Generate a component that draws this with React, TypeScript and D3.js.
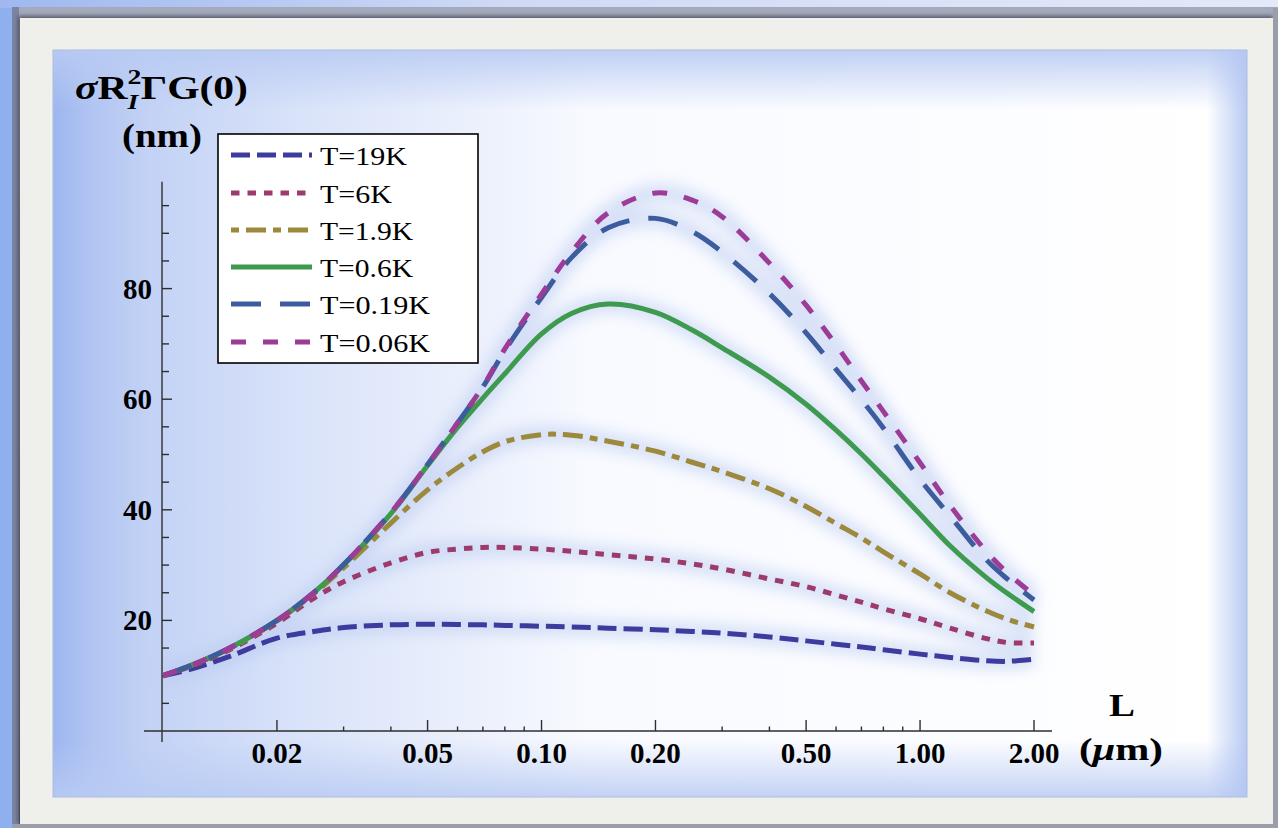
import React from 'react';
import * as d3 from 'd3';

const W = 1278;
const H = 828;

// L values (micrometres) at which the curves are sampled
const lengths = [0.01, 0.012, 0.015, 0.02, 0.025, 0.03, 0.04, 0.05, 0.06, 0.07, 0.08, 0.1, 0.12, 0.15, 0.2, 0.25, 0.3, 0.4, 0.5, 0.6, 0.7, 0.8, 1.0, 1.2, 1.5, 1.7, 2.0];

// sigma R_I^2 Gamma G(0) (nm) for each temperature
const t19K = [10.0, 11.3, 13.5, 16.8, 18.0, 18.7, 19.2, 19.3, 19.25, 19.2, 19.1, 18.95, 18.8, 18.6, 18.3, 18.0, 17.7, 17.0, 16.3, 15.7, 15.2, 14.7, 13.9, 13.3, 12.7, 12.6, 13.0];
const t6K = [10.0, 11.8, 14.7, 19.5, 24.0, 27.0, 30.4, 32.3, 32.9, 33.2, 33.2, 32.9, 32.5, 31.9, 31.1, 30.2, 29.3, 27.5, 26.1, 24.6, 23.3, 22.1, 20.3, 18.6, 16.7, 16.0, 15.9];
const t1_9K = [10.0, 12.0, 14.9, 19.9, 24.8, 29.5, 37.6, 43.6, 47.6, 50.5, 52.3, 53.6, 53.5, 52.4, 50.6, 48.6, 46.9, 43.8, 40.6, 37.5, 34.9, 32.4, 28.4, 25.0, 21.7, 20.2, 18.8];
const t0_6K = [10.0, 12.0, 15.0, 20.0, 25.0, 30.0, 39.3, 48.0, 54.9, 60.2, 64.6, 71.8, 75.5, 77.2, 75.7, 72.5, 69.3, 64.0, 59.1, 54.4, 50.1, 46.1, 39.2, 33.5, 27.7, 24.9, 21.6];
const t0_19K = [10.0, 12.0, 15.0, 20.0, 25.0, 30.1, 39.5, 48.2, 55.7, 62.2, 68.8, 78.4, 85.6, 91.0, 92.7, 90.3, 86.6, 79.1, 72.0, 65.4, 59.9, 54.8, 45.5, 38.9, 30.9, 27.5, 23.7];
const t0_06K = [10.0, 12.0, 15.0, 20.0, 25.0, 30.1, 39.5, 48.2, 55.7, 62.3, 69.1, 79.0, 86.6, 93.7, 97.3, 96.0, 93.0, 84.6, 77.0, 69.8, 63.3, 57.8, 48.5, 40.8, 32.4, 28.6, 24.6];

const seriesLabels = ['T=19K', 'T=6K', 'T=1.9K', 'T=0.6K', 'T=0.19K', 'T=0.06K'];
const seriesValues = [t19K, t6K, t1_9K, t0_6K, t0_19K, t0_06K];
const seriesColors = ['#3d3c9e', '#9c3a6c', '#9c893b', '#3e9a4e', '#3d5c9d', '#9c3c96'];
const seriesDash = ['19,7', '8.5,8', '8,7,20,7', null, '30,19', '15,17'];
const legendTextWidths = [87, 72, 93, 93, 110, 110];

const xMajorTicks = [0.02, 0.05, 0.1, 0.2, 0.5, 1, 2];
const xTickLabels = ['0.02', '0.05', '0.10', '0.20', '0.50', '1.00', '2.00'];
const xMinorTicks = [0.03, 0.04, 0.06, 0.07, 0.08, 0.09, 0.3, 0.4, 0.6, 0.7, 0.8, 0.9];
const yMajorTicks = [20, 40, 60, 80];
const yMinorTicks = [5, 10, 15, 25, 30, 35, 45, 50, 55, 65, 70, 75, 85, 90, 95];

const SERIF = '"Liberation Serif", "Times New Roman", Times, serif';

export default function App() {
  const x = d3.scaleLog().domain([0.01, 2]).range([163, 1034]);
  const y = d3.scaleLinear().domain([0, 80]).range([731, 288.6]);

  const line = d3
    .line<[number, number]>()
    .x((d) => x(d[0]))
    .y((d) => y(d[1]))
    .curve(d3.curveCatmullRom.alpha(0.5));

  const paths = seriesValues.map((vals) => line(lengths.map((l, i) => [l, vals[i]] as [number, number])) || '');

  const axisY0 = y(0);
  const axisX0 = 162;

  const legendX = 218;
  const legendY = 134;
  const legendRowBase = [165, 203, 240, 277, 314, 352];

  return (
    <div style={{ position: 'absolute', left: 0, top: 0 }}>
      <svg width={W} height={H} style={{ display: 'block' }} xmlns="http://www.w3.org/2000/svg">
        <defs>
          <linearGradient id="topStrip" x1="0" x2="1" y1="0" y2="0">
            <stop offset="0" stopColor="#9fb8ef" />
            <stop offset="0.4" stopColor="#cfdaf6" />
            <stop offset="1" stopColor="#e3e9f8" />
          </linearGradient>
          <linearGradient id="panelH" x1="0" x2="1" y1="0" y2="0">
            <stop offset="0" stopColor="#9cb6ef" />
            <stop offset="0.03" stopColor="#b0c4f2" />
            <stop offset="0.08" stopColor="#c3d2f5" />
            <stop offset="0.2" stopColor="#d8e2f9" />
            <stop offset="0.35" stopColor="#ebf0fc" />
            <stop offset="0.45" stopColor="#f8faff" />
            <stop offset="1" stopColor="#ffffff" />
          </linearGradient>
          <linearGradient id="panelTop" x1="0" x2="0" y1="0" y2="1">
            <stop offset="0" stopColor="#b9cbf3" stopOpacity="0.9" />
            <stop offset="1" stopColor="#b9cbf3" stopOpacity="0" />
          </linearGradient>
          <linearGradient id="panelBottom" x1="0" x2="0" y1="0" y2="1">
            <stop offset="0" stopColor="#b9cbf3" stopOpacity="0" />
            <stop offset="1" stopColor="#b9cbf3" stopOpacity="0.85" />
          </linearGradient>
          <linearGradient id="panelRight" x1="0" x2="1" y1="0" y2="0">
            <stop offset="0" stopColor="#b4c7f2" stopOpacity="0" />
            <stop offset="1" stopColor="#b4c7f2" stopOpacity="0.95" />
          </linearGradient>
          <linearGradient id="frameTop" x1="0" x2="0" y1="0" y2="1">
            <stop offset="0" stopColor="#a4aabb" />
            <stop offset="0.6" stopColor="#7e8499" />
            <stop offset="1" stopColor="#4e5264" />
          </linearGradient>
          <filter id="glow" x="-10%" y="-10%" width="120%" height="120%">
            <feGaussianBlur stdDeviation="7" />
          </filter>
          <filter id="shadow" x="-5%" y="-5%" width="110%" height="110%">
            <feGaussianBlur stdDeviation="2" />
          </filter>
        </defs>

        {/* page background and frame */}
        <rect x={0} y={0} width={W} height={H} fill="#8fb0ee" />
        <rect x={0} y={0} width={W} height={8} fill="url(#topStrip)" />
        <rect x={12} y={7} width={W - 12} height={H - 7} fill="url(#frameTop)" />
        <rect x={12} y={7} width={7} height={H - 7} fill="#7b84a0" />
        <rect x={18} y={16} width={W - 23} height={H - 20} fill="#3e4252" filter="url(#shadow)" opacity={0.8} />
        <rect x={20} y={18} width={W - 25} height={H - 22} fill="#efefeb" />
        <rect x={1273} y={8} width={5} height={H - 8} fill="#9a9ea9" />
        <rect x={12} y={824} width={W - 12} height={4} fill="#9a9ea9" />

        {/* plot panel */}
        <rect x={53} y={50} width={1194} height={747} fill="url(#panelH)" />
        <rect x={53} y={50} width={1194} height={60} fill="url(#panelTop)" />
        <rect x={53} y={740} width={1194} height={57} fill="url(#panelBottom)" />
        <rect x={1207} y={50} width={40} height={747} fill="url(#panelRight)" />
        <rect x={53} y={50} width={1194} height={747} fill="none" stroke="#aebde0" strokeWidth={1} />

        {/* curve halo */}
        <g filter="url(#glow)" opacity={0.5}>
          {paths.map((d, i) => (
            <path key={'g' + i} d={d} fill="none" stroke="#b7c8ef" strokeWidth={18} />
          ))}
        </g>

        {/* axes */}
        <g stroke="#2e2e2e" strokeWidth={1.4} fill="none">
          <line x1={144} x2={1052} y1={axisY0} y2={axisY0} />
          <line x1={axisX0} x2={axisX0} y1={y(-2)} y2={y(99.3)} />
          {xMajorTicks.map((t) => (
            <line key={'xM' + t} x1={x(t)} x2={x(t)} y1={axisY0} y2={axisY0 - 11} />
          ))}
          {xMinorTicks.map((t) => (
            <line key={'xm' + t} x1={x(t)} x2={x(t)} y1={axisY0} y2={axisY0 - 4.5} />
          ))}
          {yMajorTicks.map((t) => (
            <line key={'yM' + t} x1={axisX0} x2={axisX0 + 10} y1={y(t)} y2={y(t)} />
          ))}
          {yMinorTicks.map((t) => (
            <line key={'ym' + t} x1={axisX0} x2={axisX0 + 7} y1={y(t)} y2={y(t)} />
          ))}
        </g>

        {/* tick labels */}
        <g fontFamily={SERIF} fontWeight="bold" fontSize={29} fill="#000">
          {xMajorTicks.map((t, i) => (
            <text key={'xl' + t} x={x(t)} y={763} textAnchor="middle">
              {xTickLabels[i]}
            </text>
          ))}
          {yMajorTicks.map((t) => (
            <text key={'yl' + t} x={152} y={y(t) + 10} textAnchor="end">
              {t}
            </text>
          ))}
        </g>

        {/* curves */}
        <g fill="none" strokeWidth={5} strokeLinecap="butt" strokeLinejoin="round">
          {paths.map((d, i) => (
            <path
              key={'c' + i}
              d={d}
              stroke={seriesColors[i]}
              strokeDasharray={seriesDash[i] || undefined}
            />
          ))}
        </g>

        {/* axis titles */}
        <g fontFamily={SERIF} fontWeight="bold" fill="#000">
          <text x={75} y={99} fontSize={33} textLength={173} lengthAdjust="spacingAndGlyphs">
            <tspan fontStyle="italic">σ</tspan>R
            <tspan fontSize={22} dy={-15}>2</tspan>
            <tspan fontSize={22} fontStyle="italic" dx={-11} dy={25}>I</tspan>
            <tspan dx={2} dy={-10}>ΓG(0)</tspan>
          </text>
          <text x={122} y={147} fontSize={33} textLength={80} lengthAdjust="spacingAndGlyphs">
            (nm)
          </text>
          <text x={1109} y={716} fontSize={32} textLength={26} lengthAdjust="spacingAndGlyphs">
            L
          </text>
          <text x={1079} y={760} fontSize={32} textLength={84} lengthAdjust="spacingAndGlyphs">
            (<tspan fontStyle="italic">μ</tspan>m)
          </text>
        </g>

        {/* legend */}
        <rect x={legendX} y={legendY} width={260} height={229} fill="#ffffff" stroke="#000" strokeWidth={1.6} />
        {seriesLabels.map((lab, i) => (
          <g key={'lg' + i}>
            <line
              x1={231}
              x2={312}
              y1={legendRowBase[i] - 10}
              y2={legendRowBase[i] - 10}
              stroke={seriesColors[i]}
              strokeWidth={5}
              strokeDasharray={seriesDash[i] || undefined}
            />
            <text
              x={320}
              y={legendRowBase[i]}
              fontFamily={SERIF}
              fontSize={26}
              fill="#000"
              textLength={legendTextWidths[i]}
              lengthAdjust="spacingAndGlyphs"
            >
              {lab}
            </text>
          </g>
        ))}
      </svg>
    </div>
  );
}
